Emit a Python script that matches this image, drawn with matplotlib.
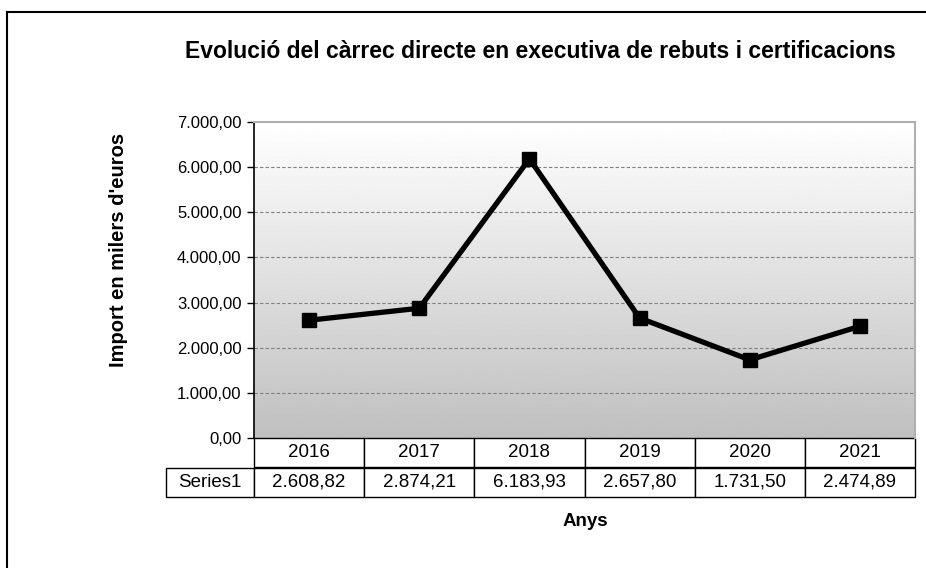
import numpy as np
import matplotlib.pyplot as plt
from matplotlib.lines import Line2D

years = ['2016', '2017', '2018', '2019', '2020', '2021']
values = [2608.82, 2874.21, 6183.93, 2657.80, 1731.50, 2474.89]
value_labels = ['2.608,82', '2.874,21', '6.183,93', '2.657,80', '1.731,50', '2.474,89']
series_name = 'Series1'
y_ticks = [0, 1000, 2000, 3000, 4000, 5000, 6000, 7000]
y_tick_labels = ['0,00', '1.000,00', '2.000,00', '3.000,00', '4.000,00',
                 '5.000,00', '6.000,00', '7.000,00']

plt.rcParams['font.family'] = ['Liberation Sans', 'DejaVu Sans']

W, H = 926, 568
fig = plt.figure(figsize=(W / 100, H / 100), dpi=100)

# plot area in pixels: x 254..915, y 122..438
left, right, top, bottom = 254, 915, 122, 438
ax = fig.add_axes([left / W, 1 - bottom / H, (right - left) / W, (bottom - top) / H])

x = np.arange(len(years))
ax.set_xlim(-0.5, len(years) - 0.5)
ax.set_ylim(0, 7000)

# gradient background white -> gray
grad = np.linspace(1.0, 0.75, 256).reshape(-1, 1)
ax.imshow(grad, cmap='gray', vmin=0, vmax=1, aspect='auto',
          extent=[0, 1, 0, 1], transform=ax.transAxes, zorder=0)

for yv in y_ticks[1:-1]:
    ax.axhline(yv, color='#808080', lw=0.8, ls=(0, (3, 2)), zorder=1)

ax.plot(x, values, color='black', lw=3.8, marker='s', markersize=10,
        markerfacecolor='black', zorder=3)

ax.set_yticks(y_ticks)
ax.set_yticklabels(y_tick_labels, fontsize=12)
ax.tick_params(axis='y', direction='out', length=5, width=1, pad=4)
ax.set_xticks([])

ax.spines['left'].set_color('black')
ax.spines['left'].set_linewidth(1.2)
for s in ['top', 'right']:
    ax.spines[s].set_color('#b0b0b0')
    ax.spines[s].set_linewidth(1.5)
ax.spines['bottom'].set_visible(False)

# data table below the plot area
label_w = 88
col_w = (right - left) / len(years)
cell_text = [[''] + years, [series_name] + value_labels]
col_widths = [label_w] + [col_w] * len(years)
total_w = sum(col_widths)
tbl = ax.table(cellText=cell_text, colWidths=[c / total_w for c in col_widths],
               cellLoc='center',
               bbox=[-label_w / (right - left), -(497 - bottom) / (bottom - top),
                     total_w / (right - left), (497 - bottom) / (bottom - top)])
tbl.auto_set_font_size(False)
for (r, c), cell in tbl.get_celld().items():
    cell.set_linewidth(1.0)
    cell.set_edgecolor('black')
    cell.get_text().set_fontsize(13.5)
    if r == 0 and c == 0:
        cell.visible_edges = 'open'

fig.text(540 / W, 1 - 52 / H, 'Evolució del càrrec directe en executiva de rebuts i certificacions',
         ha='center', va='center', fontsize=16.5, fontweight='bold')
fig.text(119 / W, 1 - 250 / H, "Import en milers d'euros", rotation=90,
         ha='center', va='center', fontsize=14.5, fontweight='bold')
fig.text(585 / W, 1 - 521 / H, 'Anys', ha='center', va='center',
         fontsize=13.5, fontweight='bold')

# chart border (left and top)
fig.add_artist(Line2D([7 / W, 7 / W], [0, 1 - 12 / H], color='black', lw=1.5,
                      transform=fig.transFigure))
fig.add_artist(Line2D([7 / W, 1], [1 - 12 / H, 1 - 12 / H], color='black', lw=1.5,
                      transform=fig.transFigure))

fig.savefig('out.png', dpi=100)
